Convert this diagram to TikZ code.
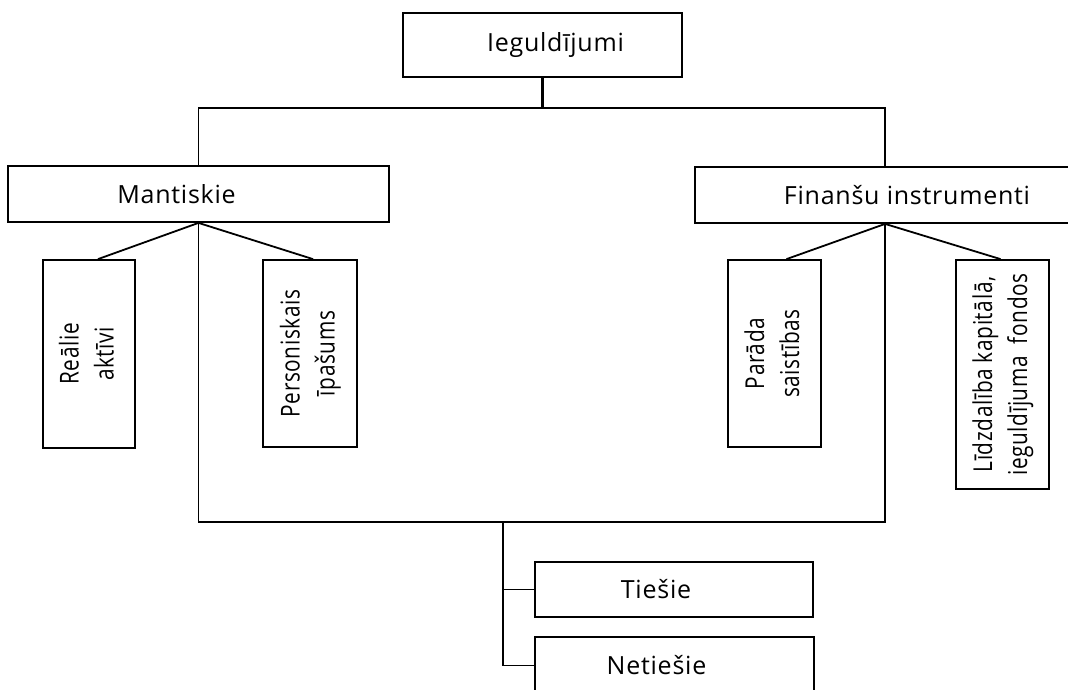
\documentclass[tikz,border=0pt]{standalone}
\usepackage{fontspec}
\usepackage{graphicx}
\setmainfont{Open Sans}
\newfontfamily\labelfont[LetterSpace=3]{Open Sans}
\newcommand{\sidetext}[1]{\rotatebox{90}{\scalebox{0.8}[1]{\fontsize{26}{35}\selectfont\begin{tabular}{@{}c@{}}#1\end{tabular}}}}
\begin{document}
\begin{tikzpicture}[x=1pt,y=-1pt,
  box/.style={draw, line width=1.8pt, inner sep=0pt, font=\labelfont\fontsize{25}{30}\selectfont},
  link/.style={line width=1.8pt}]
\useasboundingbox (0,0) rectangle (1068,689);
\clip (0,0) rectangle (1068,689);
\fill[white] (0,0) rectangle (1068,689);

% root and the two main groups
\node[box, minimum width=279pt, minimum height=64pt] (root) at (542.5,45) {\hspace*{26pt}Ieguldījumi};
\node[box, minimum width=381pt, minimum height=56pt] (mant) at (198.5,194) {Mantiskie\hspace*{44pt}};
\node[box, minimum width=424pt, minimum height=56pt] (fin) at (907,195) {Finanšu instrumenti};

% vertical leaf boxes
\node[box, minimum width=92pt, minimum height=188pt] (real) at (89,354) {\sidetext{Reālie\\aktīvi}};
\node[box, minimum width=94pt, minimum height=187pt] (pers) at (310,353.5) {\sidetext{Personiskais\\īpašums}};
\node[box, minimum width=93pt, minimum height=187pt] (para) at (774.5,353.5) {\sidetext{Parāda\\saistības}};
\node[box, minimum width=93pt, minimum height=229pt] (lidz) at (1002.5,374.5) {\sidetext{Līdzdalība kapitālā,\\ieguldījuma\ \ fondos}};

% direct / indirect
\node[box, minimum width=278pt, minimum height=55pt] (tiesie) at (674,589.5) {Tiešie\hspace*{36pt}};
\node[box, minimum width=279pt, minimum height=57pt] (netiesie) at (674.5,665.5) {Netiešie\hspace*{36pt}};

% junction points
\coordinate (hub) at (542.5,108);
\coordinate (finTop) at ([xshift=191pt]fin.north west);
\coordinate (finApex) at ([xshift=191pt]fin.south west);
\coordinate (base) at (503,522);

% connectors
\draw[line width=2.6pt] (root.south) -- (hub);
\draw[link] (mant.north) |- (hub) -| (finTop);
\draw[link] (mant.south) -- ([xshift=9pt]real.north);
\draw[link] (mant.south) -- ([xshift=3pt]pers.north);
\draw[link] (finApex) -- ([xshift=12pt]para.north);
\draw[link] (finApex) -- ([xshift=-2pt]lidz.north);
\draw[link] (mant.south) |- (base) -| (finApex);
\draw[link] (base) |- (tiesie.west);
\draw[link] (base) |- (netiesie.west);
\end{tikzpicture}
\end{document}
